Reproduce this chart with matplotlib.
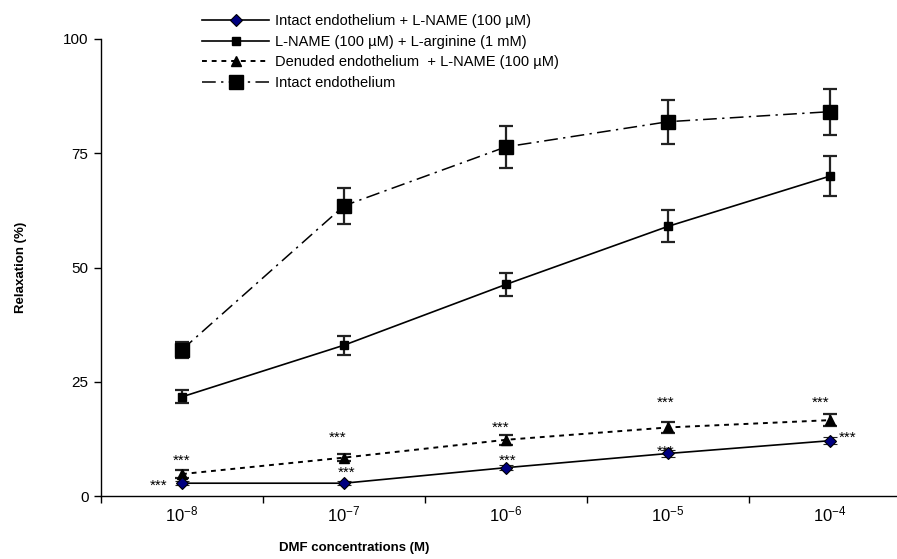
import matplotlib
matplotlib.use("Agg")
import matplotlib.pyplot as plt
from matplotlib.ticker import FixedLocator, NullFormatter

plt.rcParams["font.family"] = ["Liberation Sans", "DejaVu Sans"]
plt.rcParams["mathtext.fontset"] = "custom"
plt.rcParams["mathtext.rm"] = "Liberation Sans"
plt.rcParams["mathtext.default"] = "regular"

# DMF concentrations (M)
concentrations = ["$10^{-8}$", "$10^{-7}$", "$10^{-6}$", "$10^{-5}$", "$10^{-4}$"]

# Relaxation (%) mean and error for each condition
intact_lname = [2.8, 2.8, 6.2, 9.3, 12.1]
intact_lname_err = [0.5, 0.4, 0.6, 0.8, 0.8]

lname_larg = [21.7, 33.0, 46.3, 59.0, 70.0]
lname_larg_err = [1.4, 2.1, 2.6, 3.5, 4.3]

denuded_lname = [4.8, 8.4, 12.3, 15.0, 16.6]
denuded_lname_err = [0.9, 0.8, 1.1, 1.2, 1.3]

intact = [32.0, 63.5, 76.4, 81.9, 84.1]
intact_err = [1.8, 3.9, 4.6, 4.8, 5.0]

labels = [
    "Intact endothelium + L-NAME (100 µM)",
    "L-NAME (100 µM) + L-arginine (1 mM)",
    "Denuded endothelium  + L-NAME (100 µM)",
    "Intact endothelium",
]

# significance marks, offset in pixels from each point (dx right, dy up)
sig_text = "***"
sig_denuded = [(0, 17), (-6, 24), (-5, 16), (-2, 29), (-9, 21)]
sig_intact_lname = [(-23, 1), (3, 14), (2, 11), (-2, 6), (18, 7)]

fig = plt.figure(figsize=(8.97, 5.59), dpi=100)
ax = fig.add_axes([101 / 897, 63 / 559, 810 / 897, 457 / 559])

x = list(range(len(concentrations)))
err_kw = dict(ecolor="#222222", elinewidth=1.6, capsize=5, capthick=1.6)

c_int = ax.errorbar(x, intact, yerr=intact_err, color="black", lw=1.1,
                    dashes=(9, 3.5, 1.5, 3.5), marker="s", ms=10.5,
                    mfc="black", mec="black", zorder=3, **err_kw)
c_larg = ax.errorbar(x, lname_larg, yerr=lname_larg_err, color="black", lw=1.2,
                     marker="s", ms=6, mfc="black", mec="black", zorder=3,
                     **err_kw)
c_den = ax.errorbar(x, denuded_lname, yerr=denuded_lname_err, color="black",
                    lw=1.4, dashes=(2.5, 2.5), marker="^", ms=7.5, mfc="black",
                    mec="black", zorder=3, **err_kw)
c_il = ax.errorbar(x, intact_lname, yerr=intact_lname_err, color="black",
                   lw=1.2, marker="D", ms=6, mfc="#000080", mec="black",
                   mew=0.8, zorder=4, **err_kw)

PT = 0.72  # points per pixel at 100 dpi
for i, (dx, dy) in enumerate(sig_denuded):
    ax.annotate(sig_text, (x[i], denuded_lname[i]),
                xytext=(dx * PT, (dy - 4) * PT), textcoords="offset points",
                ha="center", va="center", fontsize=11, annotation_clip=False)
for i, (dx, dy) in enumerate(sig_intact_lname):
    ax.annotate(sig_text, (x[i], intact_lname[i]),
                xytext=(dx * PT, (dy - 4) * PT), textcoords="offset points",
                ha="center", va="center", fontsize=11, annotation_clip=False)

ax.set_xlim(-0.5, 4.5)
ax.set_ylim(0, 100)
ax.set_yticks([0, 25, 50, 75, 100])
ax.set_xticks(x)
ax.set_xticklabels(concentrations, fontsize=12)
ax.xaxis.set_minor_locator(FixedLocator([-0.5, 0.5, 1.5, 2.5, 3.5, 4.5]))
ax.xaxis.set_minor_formatter(NullFormatter())
ax.tick_params(axis="x", which="major", length=0, pad=6)
ax.tick_params(axis="x", which="minor", length=5, width=1, direction="out")
ax.tick_params(axis="y", length=5, width=1, labelsize=11, pad=4)

for side in ("top", "right"):
    ax.spines[side].set_visible(False)
for side in ("left", "bottom"):
    ax.spines[side].set_linewidth(1.0)

ax.set_ylabel("Relaxation (%)", fontsize=9.5, fontweight="bold", labelpad=26)
fig.text(354 / 897, 11 / 559, "DMF concentrations (M)", fontsize=9.5,
         fontweight="bold", ha="center", va="center")

handles = [c_il[0], c_larg[0], c_den[0], c_int[0]]
fig.legend(handles, labels, loc="upper left",
           bbox_to_anchor=(192 / 897, 1.0 - 4 / 559), frameon=False,
           fontsize=10.5, handlelength=4.6, handletextpad=0.4,
           labelspacing=0.45, borderaxespad=0.3)

fig.savefig("out.png", dpi=100)
